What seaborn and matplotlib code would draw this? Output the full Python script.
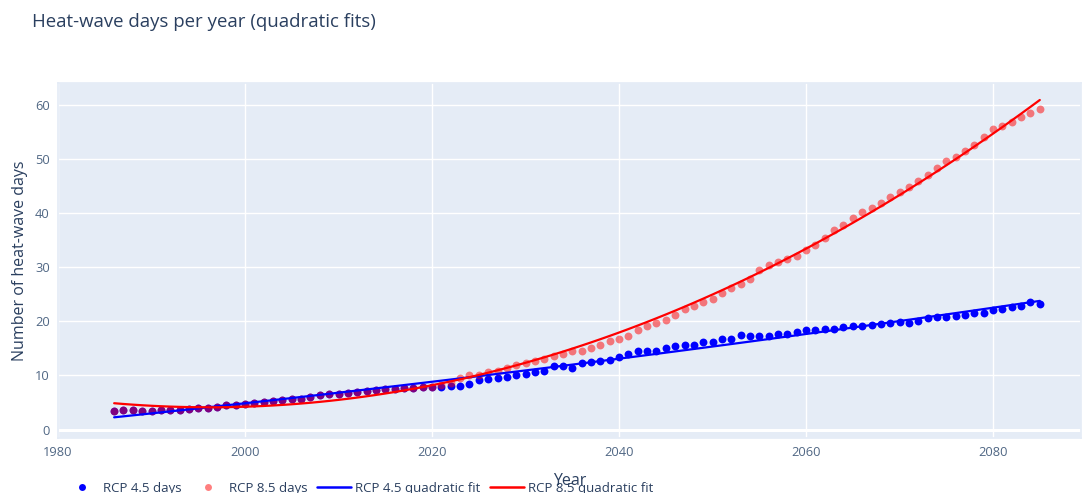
import numpy as np
import pandas as pd
import matplotlib
matplotlib.use("Agg")
import matplotlib.pyplot as plt
import seaborn as sns
from matplotlib.lines import Line2D

# Heat-wave days per year, 1986-2085, under two emission scenarios
years = list(range(1986, 2086))

rcp45_days = [
    3.4, 3.6, 3.6, 3.4, 3.4, 3.7, 3.7, 3.7, 3.9, 4.0,
    4.0, 4.1, 4.6, 4.6, 4.8, 5.0, 5.1, 5.2, 5.4, 5.7,
    5.7, 6.0, 6.4, 6.6, 6.6, 6.8, 6.9, 7.2, 7.4, 7.5,
    7.5, 7.7, 7.7, 7.9, 7.9, 7.9, 8.1, 8.1, 8.5, 9.2,
    9.4, 9.6, 9.8, 10.0, 10.3, 10.6, 10.8, 11.7, 11.8, 11.4,
    12.3, 12.5, 12.6, 12.9, 13.4, 14.0, 14.5, 14.5, 14.6, 15.1,
    15.5, 15.6, 15.7, 16.1, 16.2, 16.7, 16.8, 17.4, 17.2, 17.2,
    17.3, 17.7, 17.7, 18.1, 18.3, 18.3, 18.6, 18.5, 18.9, 19.2,
    19.1, 19.3, 19.5, 19.7, 19.8, 19.6, 20.0, 20.6, 20.8, 20.7,
    21.0, 21.2, 21.5, 21.6, 22.1, 22.3, 22.6, 22.8, 23.5, 23.2,
]

rcp85_days = [
    3.4, 3.6, 3.6, 3.4, 3.4, 3.7, 3.7, 3.7, 3.9, 4.0,
    4.0, 4.1, 4.6, 4.6, 4.8, 5.0, 5.1, 5.2, 5.4, 5.7,
    5.7, 6.0, 6.4, 6.6, 6.6, 6.8, 6.9, 7.2, 7.4, 7.5,
    7.5, 7.7, 7.7, 7.9, 7.9, 8.2, 8.7, 9.6, 10.0, 10.1,
    10.6, 10.9, 11.4, 12.0, 12.3, 12.7, 13.0, 13.5, 14.0, 14.5,
    14.6, 15.1, 15.7, 16.3, 16.7, 17.3, 18.3, 19.1, 19.6, 20.3,
    21.2, 22.3, 22.9, 23.6, 24.1, 25.2, 26.1, 26.8, 27.8, 29.4,
    30.3, 30.9, 31.5, 32.1, 33.2, 34.1, 35.4, 36.9, 37.8, 39.0,
    40.1, 40.9, 41.9, 42.9, 43.8, 44.8, 45.8, 46.9, 48.3, 49.5,
    50.3, 51.5, 52.6, 54.0, 55.4, 56.0, 56.7, 57.7, 58.5, 59.2,
]

series_names = ["RCP 4.5 days", "RCP 8.5 days"]
fit_names = ["RCP 4.5 quadratic fit", "RCP 8.5 quadratic fit"]
x_ticks = [1980, 2000, 2020, 2040, 2060, 2080]
y_ticks = [0, 10, 20, 30, 40, 50, 60]

# Quadratic least-squares fit for each scenario
yr = np.array(years, dtype=float)
df = pd.DataFrame({"year": yr, "rcp45": rcp45_days, "rcp85": rcp85_days})
df["fit45"] = np.polyval(np.polyfit(yr, df["rcp45"], 2), yr)
df["fit85"] = np.polyval(np.polyfit(yr, df["rcp85"], 2), yr)

text_col = "#2a3f5f"
tick_col = "#506784"

sns.set_theme(style="darkgrid", rc={
    "axes.facecolor": "#E5ECF6",
    "grid.color": "white",
    "grid.linewidth": 1.0,
    "axes.edgecolor": "#E5ECF6",
})
plt.rcParams["font.family"] = ["Open Sans", "DejaVu Sans"]

fig = plt.figure(figsize=(10.83, 4.93), dpi=100)
ax = fig.add_axes([0.0536, 0.112, 0.9445, 0.72])

sns.scatterplot(data=df, x="year", y="rcp45", ax=ax, color="blue",
                s=32, linewidth=0, zorder=3)
sns.scatterplot(data=df, x="year", y="rcp85", ax=ax, color="red",
                alpha=0.5, s=32, linewidth=0, zorder=4)
sns.lineplot(data=df, x="year", y="fit45", ax=ax, color="blue",
             linewidth=1.6, zorder=5)
sns.lineplot(data=df, x="year", y="fit85", ax=ax, color="red",
             linewidth=1.6, zorder=6)

ax.set_xlim(1980, 2089.4)
ax.set_ylim(-1.5, 64.0)
ax.set_xticks(x_ticks)
ax.set_yticks(y_ticks)
ax.axhline(0, color="white", linewidth=2.2, zorder=1)
ax.tick_params(axis="both", colors=tick_col, labelsize=9.3, length=0, pad=6)
for lab in ax.get_xticklabels() + ax.get_yticklabels():
    lab.set_color(tick_col)

ax.set_xlabel("Year", color=text_col, fontsize=11.5, labelpad=10)
ax.set_ylabel("Number of heat-wave days", color=text_col, fontsize=11.5, labelpad=5)

fig.text(0.0295, 0.955, "Heat-wave days per year (quadratic fits)",
         color=text_col, fontsize=13.4, ha="left", va="center")

handles = [
    Line2D([], [], linestyle="none", marker="o", markersize=5,
           markerfacecolor="blue", markeredgewidth=0),
    Line2D([], [], linestyle="none", marker="o", markersize=5,
           markerfacecolor=(1, 0, 0, 0.5), markeredgewidth=0),
    Line2D([], [], color="blue", linewidth=1.8),
    Line2D([], [], color="red", linewidth=1.8),
]
fig.legend(handles, series_names + fit_names, loc="lower left",
           bbox_to_anchor=(0.049, -0.028), ncol=4, frameon=False,
           fontsize=9.5, handlelength=2.6, handletextpad=0.3,
           columnspacing=0.7, labelcolor=text_col)

fig.savefig("out.png", dpi=100)
